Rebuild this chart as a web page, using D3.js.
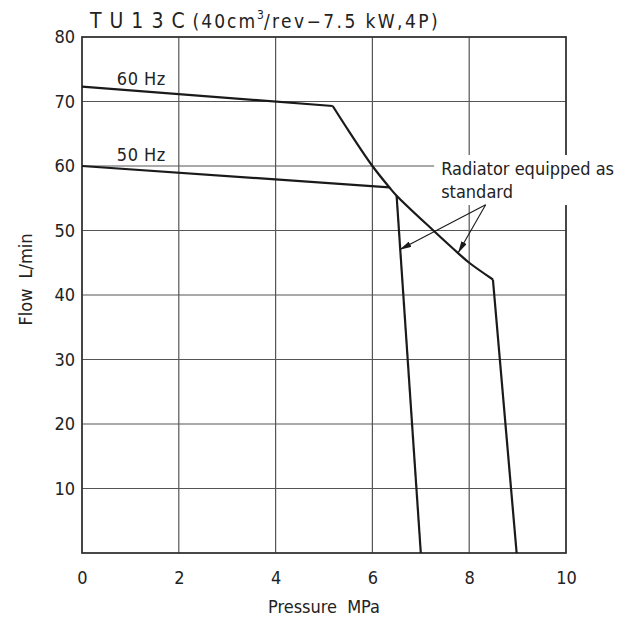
<!DOCTYPE html>
<html>
<head>
<meta charset="utf-8">
<script src="https://cdn.jsdelivr.net/npm/d3@7"></script>
<style>
  body { margin: 0; background: #fff; }
  svg { display: block; }
</style>
</head>
<body>
<svg id="chart" width="629" height="620"></svg>
<script>
// данные (давление MPa, расход L/min)
const hz60Flat = [[0, 72.3], [5.18, 69.3]];
const hz60Curve = [[5.18, 69.3], [5.54, 65.1], [6.0, 60.0], [6.35, 56.7], [6.5, 55.4], [7.26, 50.0], [7.77, 46.5], [8.0, 45.0], [8.49, 42.4]];
const hz60Drop = [[8.49, 42.4], [8.98, 0]];
const hz50Flat = [[0, 60.0], [6.35, 56.7]];
const hz50Drop = [[6.5, 55.4], [7.0, 0]];
const xTicks = [0, 2, 4, 6, 8, 10];
const yTicks = [10, 20, 30, 40, 50, 60, 70, 80];
const seriesLabels = [{ text: "60 Hz", x: 0.72, y: 72.6 }, { text: "50 Hz", x: 0.72, y: 60.7 }];
const noteLines = ["Radiator equipped as", "standard"];
const arrowFrom = [8.34, 54.0];
const arrowTips = [[6.56, 47.0], [7.77, 46.5]];

const FONT = "'Liberation Sans Narrow', 'DejaVu Sans Condensed', 'Liberation Sans', sans-serif";

const svg = d3.select("#chart");
const area = { left: 82, top: 37, width: 484, height: 516 };

const x = d3.scaleLinear().domain([0, 10]).range([area.left, area.left + area.width]);
const y = d3.scaleLinear().domain([0, 80]).range([area.top + area.height, area.top]);

// сетка
const grid = svg.append("g");
grid.selectAll(".gx").data(xTicks.slice(1, -1)).enter().append("line")
    .attr("x1", d => x(d)).attr("x2", d => x(d))
    .attr("y1", y(0)).attr("y2", y(80))
    .attr("stroke", "#555").attr("stroke-width", 1.2);
grid.selectAll(".gy").data(yTicks.slice(0, -1)).enter().append("line")
    .attr("x1", x(0)).attr("x2", x(10))
    .attr("y1", d => y(d)).attr("y2", d => y(d))
    .attr("stroke", "#555").attr("stroke-width", 1.2);

// рамка
svg.append("rect")
    .attr("x", x(0)).attr("y", y(80))
    .attr("width", x(10) - x(0)).attr("height", y(0) - y(80))
    .attr("fill", "none").attr("stroke", "#333").attr("stroke-width", 1.8);

// оси (только подписи)
const axX = svg.append("g")
    .attr("transform", `translate(0, ${y(0)})`)
    .call(d3.axisBottom(x).tickValues(xTicks).tickSize(0).tickPadding(18).tickFormat(d3.format("d")));
const axY = svg.append("g")
    .attr("transform", `translate(${x(0)}, 0)`)
    .call(d3.axisLeft(y).tickValues(yTicks).tickSize(0).tickPadding(7).tickFormat(d3.format("d")));
[axX, axY].forEach(ax => {
    ax.select(".domain").remove();
    ax.selectAll("text")
        .style("font-family", FONT).style("font-size", "18px")
        .attr("fill", "#222");
});

// подписи осей
svg.append("text")
    .attr("x", x(5)).attr("y", 613)
    .attr("text-anchor", "middle")
    .style("font-family", FONT).style("font-size", "18px").style("word-spacing", "5px")
    .attr("fill", "#222")
    .text("Pressure MPa");
svg.append("text")
    .attr("transform", `translate(32, ${y(42.4)}) rotate(-90)`)
    .attr("text-anchor", "middle")
    .style("font-family", FONT).style("font-size", "18px").style("word-spacing", "5px")
    .attr("fill", "#222")
    .text("Flow L/min");

// заголовок
const title = svg.append("text")
    .attr("x", 90).attr("y", 28)
    .style("font-family", FONT).attr("fill", "#222");
title.append("tspan").style("font-size", "21px").style("letter-spacing", "8px").text("TU13C");
title.append("tspan").style("font-size", "19px").style("letter-spacing", "2px").text("(40cm");
title.append("tspan").style("font-size", "12px").attr("dy", -9).text("3");
title.append("tspan").style("font-size", "19px").style("letter-spacing", "2.4px").attr("dy", 9).text("/rev−7.5 kW,4P)");

// подпись-примечание с белой подложкой
const note = svg.append("g");
const noteText = note.append("text")
    .attr("x", x(7.42)).attr("y", y(58.6))
    .style("font-family", FONT).style("font-size", "18px")
    .attr("fill", "#222");
noteText.selectAll("tspan").data(noteLines).enter().append("tspan")
    .attr("x", x(7.42)).attr("dy", (d, i) => i === 0 ? 0 : 23)
    .text(d => d);
const bb = noteText.node().getBBox();
note.insert("rect", "text")
    .attr("x", bb.x - 7).attr("y", bb.y - 3)
    .attr("width", bb.width + 14).attr("height", bb.height + 6)
    .attr("fill", "#fff");

// кривые
const line = d3.line().x(d => x(d[0])).y(d => y(d[1]));
const curve = d3.line().x(d => x(d[0])).y(d => y(d[1])).curve(d3.curveCatmullRom.alpha(0.5));
const strokeStyle = sel => sel.attr("fill", "none").attr("stroke", "#1a1a1a")
    .attr("stroke-width", 2.2).attr("stroke-linejoin", "miter");

[hz60Flat, hz60Drop, hz50Flat, hz50Drop].forEach(seg => {
    svg.append("path").datum(seg).attr("d", line).call(strokeStyle);
});
svg.append("path").datum(hz60Curve).attr("d", curve).call(strokeStyle);

// подписи серий
svg.selectAll(".slabel").data(seriesLabels).enter().append("text")
    .attr("x", d => x(d.x)).attr("y", d => y(d.y))
    .style("font-family", FONT).style("font-size", "18px").style("letter-spacing", "0.5px")
    .attr("fill", "#222")
    .text(d => d.text);

// стрелки
svg.append("defs").append("marker")
    .attr("id", "arr")
    .attr("viewBox", "0 0 12 6")
    .attr("refX", 12).attr("refY", 3)
    .attr("markerWidth", 12).attr("markerHeight", 6)
    .attr("markerUnits", "userSpaceOnUse")
    .attr("orient", "auto")
    .append("path").attr("d", "M0,0 L12,3 L0,6 Z").attr("fill", "#1a1a1a");

svg.selectAll(".arrow").data(arrowTips).enter().append("line")
    .attr("x1", x(arrowFrom[0])).attr("y1", y(arrowFrom[1]))
    .attr("x2", d => x(d[0])).attr("y2", d => y(d[1]))
    .attr("stroke", "#1a1a1a").attr("stroke-width", 1.1)
    .attr("marker-end", "url(#arr)");
</script>
</body>
</html>
